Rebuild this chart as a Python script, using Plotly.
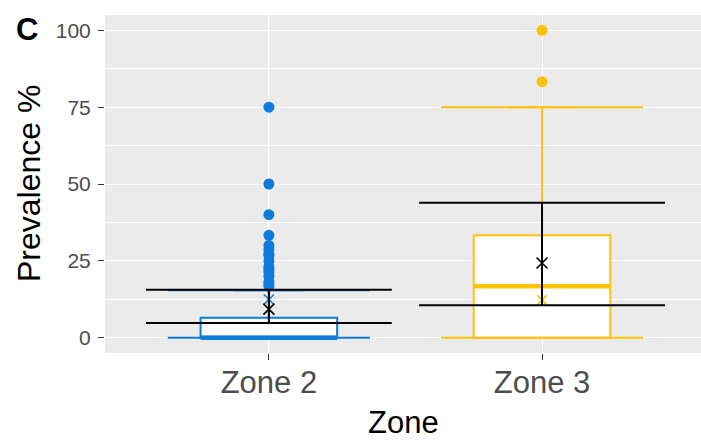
import plotly.graph_objects as go

# ---- data ----
zones = ["Zone 2", "Zone 3"]
zone_pos = [1, 2]
colors = ["#0C7BDC", "#FFC20A"]
q1 = [0, 0]
median = [0, 16.7]
q3 = [6.5, 33.3]
lower_whisker = [0, 0]
upper_whisker = [15.4, 75]
outliers_zone2 = [75, 50, 40, 33.3, 30, 28.6, 27.3, 26.7, 25, 23.1, 22.2, 21.4, 20, 18.2, 17.6, 16.7]
outliers_zone3 = [100, 83.3]
mean_values = [9.3, 24.3]
ci_low = [4.8, 10.5]
ci_high = [15.6, 43.9]
colored_x_values = [12.4, 12.2]
y_ticks = [0, 25, 50, 75, 100]

BOX_W = 0.5
CAP_HW = 0.37
CI_HW = 0.45
FONT = "Liberation Sans, Arial, sans-serif"

fig = go.Figure()
outliers = [outliers_zone2, outliers_zone3]

for i, (pos, col) in enumerate(zip(zone_pos, colors)):
    # whisker caps
    xs, ys = [], []
    for v in (lower_whisker[i], upper_whisker[i]):
        xs += [pos - CAP_HW, pos + CAP_HW, None]
        ys += [v, v, None]
    fig.add_trace(go.Scatter(x=xs, y=ys, mode="lines", line=dict(color=col, width=2),
                             hoverinfo="skip", showlegend=False))
    # box
    fig.add_trace(go.Box(x=[pos], q1=[q1[i]], median=[median[i]], q3=[q3[i]],
                         lowerfence=[lower_whisker[i]], upperfence=[upper_whisker[i]],
                         width=BOX_W, fillcolor="white", line=dict(color=col, width=2),
                         boxpoints=False, showlegend=False, name=zones[i]))
    # thick median
    fig.add_trace(go.Scatter(x=[pos - BOX_W / 2, pos + BOX_W / 2], y=[median[i], median[i]],
                             mode="lines", line=dict(color=col, width=4.5),
                             hoverinfo="skip", showlegend=False))
    # outliers
    fig.add_trace(go.Scatter(x=[pos] * len(outliers[i]), y=outliers[i], mode="markers",
                             marker=dict(color=col, size=11, line=dict(width=0)),
                             showlegend=False))
    # coloured x marker
    fig.add_trace(go.Scatter(x=[pos], y=[colored_x_values[i]], mode="markers",
                             marker=dict(symbol="x-thin-open", size=10, color=col,
                                         line=dict(color=col, width=1.6)),
                             showlegend=False))

# black CI bars
for i, pos in enumerate(zone_pos):
    xs = [pos - CI_HW, pos + CI_HW, None, pos - CI_HW, pos + CI_HW, None, pos, pos]
    ys = [ci_low[i], ci_low[i], None, ci_high[i], ci_high[i], None, ci_low[i], ci_high[i]]
    fig.add_trace(go.Scatter(x=xs, y=ys, mode="lines", line=dict(color="black", width=2),
                             hoverinfo="skip", showlegend=False))
    fig.add_trace(go.Scatter(x=[pos], y=[mean_values[i]], mode="markers",
                             marker=dict(symbol="x-thin-open", size=11, color="black",
                                         line=dict(color="black", width=1.6)),
                             showlegend=False))

fig.update_layout(
    width=701, height=440,
    margin=dict(l=105, r=0, t=15, b=87),
    paper_bgcolor="white", plot_bgcolor="#EBEBEB",
    font=dict(family=FONT),
    showlegend=False,
    xaxis=dict(range=[0.4, 2.582], tickvals=zone_pos, ticktext=zones, automargin=False,
               showgrid=True, gridcolor="white", gridwidth=1.2, zeroline=False,
               ticks="outside", ticklen=6, tickcolor="#333333", tickwidth=1.2,
               ticklabelstandoff=-4,
               tickfont=dict(size=31, color="#4D4D4D", family=FONT), fixedrange=True),
    yaxis=dict(range=[-5, 105], tickvals=y_ticks, showgrid=True, gridcolor="white",
               gridwidth=1.2, zeroline=False, automargin=False,
               minor=dict(dtick=12.5, tick0=0, showgrid=True, gridcolor="white", gridwidth=0.6),
               ticks="outside", ticklen=6, tickcolor="#333333", tickwidth=1.2,
               ticklabelstandoff=3,
               tickfont=dict(size=21, color="#4D4D4D", family=FONT), fixedrange=True),
    annotations=[
        dict(text="Prevalence %", xref="paper", yref="paper", x=0, y=0.5,
             xanchor="center", yanchor="middle", xshift=-76, textangle=-90,
             showarrow=False, font=dict(size=32, color="black", family=FONT)),
        dict(text="Zone", xref="paper", yref="paper", x=0.5, y=0,
             xanchor="center", yanchor="middle", yshift=-69,
             showarrow=False, font=dict(size=31, color="black", family=FONT)),
        dict(text="<b>C</b>", xref="paper", yref="paper", x=0, y=1,
             xanchor="center", yanchor="middle", xshift=-78, yshift=-14,
             showarrow=False, font=dict(size=31, color="black", family=FONT)),
    ],
)

fig.write_html("out.html", config={"displayModeBar": False},
               post_script="document.body.style.margin='0';")
